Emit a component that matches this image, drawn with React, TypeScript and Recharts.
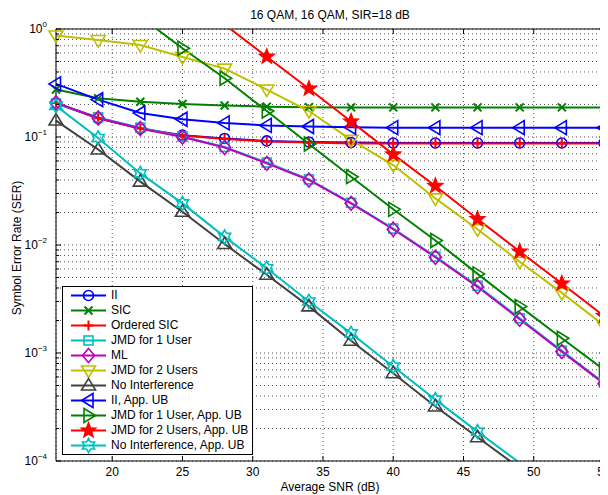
import { LineChart, Line, XAxis, YAxis, CartesianGrid, ReferenceLine, Legend } from "recharts";

// SNR grid (dB) and axis ticks
const snr = [16, 19, 22, 25, 28, 31, 34, 37, 40, 43, 46, 49, 52, 55];
const xTicks = [20, 25, 30, 35, 40, 45, 50, 55];

// symbol error rates (null = not drawn)
const ii = [0.205, 0.149, 0.12, 0.104, 0.097, 0.092, 0.09, 0.089, 0.088, 0.088, 0.088, 0.088, 0.088, 0.088];
const sic = [0.275, 0.228, 0.212, 0.202, 0.196, 0.191, 0.189, 0.188, 0.188, 0.188, 0.188, 0.188, 0.188, 0.188];
const orderedSic = [0.206, 0.149, 0.12, 0.103, 0.096, 0.091, 0.089, 0.087, 0.087, 0.087, 0.087, 0.087, 0.087, 0.087];
const jmd1 = [0.204, 0.152, 0.122, 0.101, 0.081, 0.058, 0.0405, 0.0246, 0.0142, 0.0078, 0.0042, 0.0021, 0.00105, 0.00053];
const ml = [0.208, 0.15, 0.12, 0.1, 0.08, 0.057, 0.04, 0.0243, 0.014, 0.0077, 0.0041, 0.00205, 0.00103, 0.00052];
const jmd2 = [0.87, 0.79, 0.71, 0.55, 0.43, 0.275, 0.174, 0.094, 0.055, 0.027, 0.014, 0.007, 0.0036, 0.0018];
const noInt = [0.142, 0.0766, 0.0386, 0.0203, 0.0102, 0.0053, 0.0027, 0.0013, 0.00065, 0.00032, 0.000166, 0.000086, null, null];
const iiUB = [0.31, 0.222, 0.167, 0.146, 0.135, 0.128, 0.125, 0.123, 0.122, 0.122, 0.122, 0.122, 0.122, 0.122];
const jmd1UB = [null, null, 1.3, 0.663, 0.35, 0.174, 0.0861, 0.0429, 0.0214, 0.011, 0.0054, 0.0027, 0.00137, 0.0007];
const jmd2UB = [null, null, null, null, 1.1, 0.554, 0.28, 0.139, 0.069, 0.0352, 0.0174, 0.0087, 0.0044, 0.0022];
const noIntUB = [0.194, 0.098, 0.046, 0.0243, 0.0119, 0.0061, 0.003, 0.00152, 0.00075, 0.00037, 0.000187, 0.000096, null, null];

type Shape = "o" | "x" | "+" | "s" | "d" | "v" | "^" | "<" | ">" | "p" | "h";

const series: { key: string; name: string; color: string; shape: Shape; values: (number | null)[] }[] = [
  { key: "ii", name: "II", color: "#0000ff", shape: "o", values: ii },
  { key: "sic", name: "SIC", color: "#008000", shape: "x", values: sic },
  { key: "osic", name: "Ordered SIC", color: "#ff0000", shape: "+", values: orderedSic },
  { key: "jmd1", name: "JMD for 1 User", color: "#00bfbf", shape: "s", values: jmd1 },
  { key: "ml", name: "ML", color: "#bf00bf", shape: "d", values: ml },
  { key: "jmd2", name: "JMD for 2 Users", color: "#bfbf00", shape: "v", values: jmd2 },
  { key: "noint", name: "No Interference", color: "#404040", shape: "^", values: noInt },
  { key: "iiub", name: "II, App. UB", color: "#0000ff", shape: "<", values: iiUB },
  { key: "jmd1ub", name: "JMD for 1 User, App. UB", color: "#008000", shape: ">", values: jmd1UB },
  { key: "jmd2ub", name: "JMD for 2 Users, App. UB", color: "#ff0000", shape: "p", values: jmd2UB },
  { key: "nointub", name: "No Interference, App. UB", color: "#00bfbf", shape: "h", values: noIntUB },
];

const YMIN = 1e-4;
const YMAX = 1;

// decades plus the 2..9 minor ticks, like matlab's log grid
const yTicks: number[] = [];
for (let e = -4; e < 0; e++) {
  for (let m = 1; m <= 9; m++) yTicks.push(Number((m * Math.pow(10, e)).toPrecision(6)));
}
yTicks.push(1);

const data = snr.map((x, i) => {
  const row: Record<string, number | null> = { snr: x };
  for (const s of series) {
    const v = s.values[i];
    row[s.key] = v;
    // markers only where the point sits inside the axes
    row[s.key + "_m"] = v != null && v >= YMIN && v <= YMAX ? v : null;
  }
  return row;
});

// plot geometry (chart coords)
const W = 600;
const H = 487;
const M = { top: 21, right: 4, left: 0, bottom: 0 };
const YW = 48;
const XH = 34;
const PW = W - M.left - M.right - YW;
const PH = H - M.top - M.bottom - XH;

const FONT = '"Liberation Sans", Arial, Helvetica, sans-serif';

function starPoints(cx: number, cy: number, n: number, ro: number, ri: number) {
  const pts: string[] = [];
  for (let k = 0; k < n * 2; k++) {
    const r = k % 2 === 0 ? ro : ri;
    const a = -Math.PI / 2 + (k * Math.PI) / n;
    pts.push(`${(cx + r * Math.cos(a)).toFixed(2)},${(cy + r * Math.sin(a)).toFixed(2)}`);
  }
  return pts.join(" ");
}

function Marker({ shape, cx, cy, color }: { shape: Shape; cx: number; cy: number; color: string }) {
  const sw = 1.6;
  const common = { fill: "none", stroke: color, strokeWidth: sw };
  switch (shape) {
    case "o":
      return <circle cx={cx} cy={cy} r={5} {...common} />;
    case "x":
      return <path d={`M${cx - 4},${cy - 4}L${cx + 4},${cy + 4}M${cx - 4},${cy + 4}L${cx + 4},${cy - 4}`} stroke={color} strokeWidth={2} />;
    case "+":
      return <path d={`M${cx - 5},${cy}L${cx + 5},${cy}M${cx},${cy - 5}L${cx},${cy + 5}`} stroke={color} strokeWidth={2} />;
    case "s":
      return <rect x={cx - 4.5} y={cy - 4.5} width={9} height={9} {...common} />;
    case "d":
      return <polygon points={`${cx},${cy - 7} ${cx + 6},${cy} ${cx},${cy + 7} ${cx - 6},${cy}`} {...common} />;
    case "v":
      return <polygon points={`${cx - 7},${cy - 4.5} ${cx + 7},${cy - 4.5} ${cx},${cy + 7}`} {...common} />;
    case "^":
      return <polygon points={`${cx - 7},${cy + 4.5} ${cx + 7},${cy + 4.5} ${cx},${cy - 7}`} {...common} />;
    case "<":
      return <polygon points={`${cx + 4.5},${cy - 7} ${cx + 4.5},${cy + 7} ${cx - 7},${cy}`} {...common} />;
    case ">":
      return <polygon points={`${cx - 4.5},${cy - 7} ${cx - 4.5},${cy + 7} ${cx + 7},${cy}`} {...common} />;
    case "p":
      return <polygon points={starPoints(cx, cy, 5, 8, 3.4)} fill={color} stroke={color} strokeWidth={1.2} />;
    case "h":
      return <polygon points={starPoints(cx, cy, 6, 7, 4)} {...common} />;
  }
  return null;
}

const dotFor = (s: (typeof series)[number]) => (props: any) => {
  const { cx, cy, index, value } = props;
  if (cx == null || cy == null || value == null) return <g key={`${s.key}-${index}`} />;
  return <Marker key={`${s.key}-${index}`} shape={s.shape} cx={cx} cy={cy} color={s.color} />;
};

const isDecade = (v: number) => Math.abs(Math.log10(v) - Math.round(Math.log10(v))) < 1e-6;

function YTick(props: any) {
  const { x, y, payload } = props;
  const v = payload.value as number;
  const major = isDecade(v);
  const len = major ? 5 : 3;
  const exp = Math.round(Math.log10(v));
  return (
    <g>
      <line x1={x} x2={x + len} y1={y} y2={y} stroke="#000" />
      <line x1={x + PW} x2={x + PW - len} y1={y} y2={y} stroke="#000" />
      {major && (
        <text x={x - 9} y={y + 4} textAnchor="end" fontSize={12} fontFamily={FONT} fill="#000">
          <tspan>10</tspan>
          <tspan dy={-6} fontSize={8}>{exp < 0 ? `\u2212${-exp}` : `${exp}`}</tspan>
        </text>
      )}
    </g>
  );
}

function XTick(props: any) {
  const { x, y, payload } = props;
  return (
    <g>
      <line x1={x} x2={x} y1={y} y2={y - 5} stroke="#000" />
      <line x1={x} x2={x} y1={y - PH} y2={y - PH + 5} stroke="#000" />
      <text x={x} y={y + 15} textAnchor="middle" fontSize={12} fontFamily={FONT} fill="#000">
        {payload.value}
      </text>
    </g>
  );
}

function LegendBox() {
  return (
    <div
      style={{
        border: "1px solid #000",
        background: "#fff",
        paddingTop: 1,
        width: 189,
        height: 166,
        fontFamily: FONT,
        fontSize: 12,
        color: "#000",
      }}
    >
      {series.map((s) => (
        <div key={s.key} style={{ display: "flex", alignItems: "center", height: 15 }}>
          <svg width={46} height={15} style={{ overflow: "visible", flex: "none" }}>
            <line x1={8} x2={43} y1={7.5} y2={7.5} stroke={s.color} strokeWidth={2} />
            <Marker shape={s.shape} cx={25.5} cy={7.5} color={s.color} />
          </svg>
          <span style={{ marginLeft: 2, lineHeight: "15px", whiteSpace: "nowrap" }}>{s.name}</span>
        </div>
      ))}
    </div>
  );
}

export default function App() {
  const plotLeft = M.left + YW;
  const plotCx = plotLeft + PW / 2;
  return (
    <div style={{ position: "relative", width: W, height: H, fontFamily: FONT, color: "#000" }}>
      <LineChart width={W} height={H} data={data} margin={M}>
        <CartesianGrid yAxisId="l" stroke="#555" strokeDasharray="1 3" />
        <XAxis
          dataKey="snr"
          type="number"
          domain={[16, 55]}
          ticks={xTicks}
          interval={0}
          height={XH}
          axisLine={{ stroke: "#000" }}
          tickLine={false}
          tickSize={0}
          tickMargin={0}
          tick={<XTick />}
        />
        <YAxis
          yAxisId="l"
          type="number"
          scale="log"
          domain={[YMIN, YMAX]}
          allowDataOverflow
          ticks={yTicks}
          interval={0}
          width={YW}
          axisLine={{ stroke: "#000" }}
          tickLine={false}
          tickSize={0}
          tickMargin={0}
          tick={<YTick />}
        />
        <YAxis yAxisId="m" type="number" scale="log" domain={[YMIN, YMAX]} hide />
        <ReferenceLine yAxisId="l" y={1} stroke="#000" />
        <ReferenceLine yAxisId="l" x={55} stroke="#000" />
        {series.flatMap((s) => [
          <Line
            key={s.key}
            yAxisId="l"
            type="linear"
            dataKey={s.key}
            stroke={s.color}
            strokeWidth={2}
            dot={false}
            activeDot={false}
            legendType="none"
            isAnimationActive={false}
          />,
          <Line
            key={s.key + "_m"}
            yAxisId="m"
            type="linear"
            dataKey={s.key + "_m"}
            stroke="none"
            dot={dotFor(s)}
            activeDot={false}
            legendType="none"
            isAnimationActive={false}
          />,
        ])}
        <Legend
          layout="vertical"
          align="center"
          verticalAlign="middle"
          content={() => <LegendBox />}
          wrapperStyle={{ left: 54, top: 278, width: 191, height: 168, bottom: "auto", right: "auto" }}
        />
      </LineChart>
      <div style={{ position: "absolute", left: plotLeft, width: PW, top: 0, textAlign: "center", fontSize: 12, lineHeight: "14px" }}>
        16 QAM, 16 QAM, SIR=18 dB
      </div>
      <div style={{ position: "absolute", left: plotLeft, width: PW, top: 472, textAlign: "center", fontSize: 12, lineHeight: "14px" }}>
        Average SNR (dB)
      </div>
      <div
        style={{
          position: "absolute",
          left: 9,
          top: 240,
          transform: "translate(-50%, -50%) rotate(-90deg)",
          whiteSpace: "nowrap",
          fontSize: 12,
          lineHeight: "14px",
        }}
      >
        Symbol Error Rate (SER)
      </div>
    </div>
  );
}
